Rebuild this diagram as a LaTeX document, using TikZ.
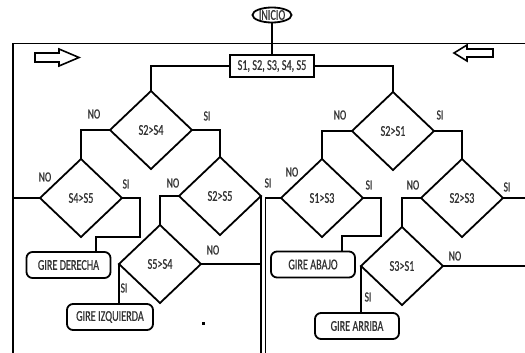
\documentclass[tikz,border=0pt]{standalone}
\usepackage{fontspec}
\setmainfont[FakeStretch=0.68,FakeBold=0.6]{Carlito}
\usetikzlibrary{shapes.geometric}
\begin{document}
\begin{tikzpicture}[x=1pt,y=-1pt,line width=1.8pt,
  every node/.style={font=\fontsize{15}{16}\selectfont, inner sep=0pt, outer sep=0pt, text=black!80},
  dec/.style={diamond, draw=black, minimum width=82pt, minimum height=78pt},
  act/.style={draw=black, rounded corners=6pt, minimum width=84pt, minimum height=26pt},
  startnode/.style={ellipse, draw=black, minimum width=39pt, minimum height=15pt},
  initbox/.style={draw=black, minimum width=84pt, minimum height=22pt},
  lbl/.style={font=\fontsize{14}{15}\selectfont},
  hollow/.style={draw=black, line width=1.6pt, fill=white, line join=miter},
  ]
\useasboundingbox (0,0) rectangle (525,353);

% frame
\coordinate (ftr) at (525,43.5);
\coordinate (ftl) at (13,43.5);
\coordinate (fbl) at (13,353);
\draw (ftr) -- (ftl) -- (fbl);

% hollow arrows
\draw[hollow] (35,53) -- (59,53) -- (59,49) -- (79,57.5) -- (59,66) -- (59,62) -- (35,62) -- cycle;
\draw[hollow] (454,53) -- (467,45) -- (467,49) -- (493,49) -- (493,57) -- (467,57) -- (467,61) -- cycle;

% nodes
\node[startnode] (inicio) at (272,15) {INICIO};
\node[initbox] (init) at (272,66) {S1, S2, S3, S4, S5};

\node[dec] (d1) at (151,130) {S2>S4};
\node[dec] (d2) at (81,198) {S4>S5};
\node[dec] (d3) at (220,196) {S2>S5};
\node[dec] (d4) at (160,264) {S5>S4};
\node[dec] (d5) at (393,131) {S2>S1};
\node[dec] (d6) at (322,198) {S1>S3};
\node[dec] (d7) at (462,198) {S2>S3};
\node[dec] (d8) at (402,266) {S3>S1};

\node[act] (gd) at (68.5,265) {GIRE DERECHA};
\node[act, minimum width=86pt] (gi) at (110,317) {GIRE IZQUIERDA};
\node[act] (gab) at (313,264.5) {GIRE ABAJO};
\node[act] (garr) at (357,326) {GIRE ARRIBA};

% free ends
\coordinate (e3) at (260.5,353);
\coordinate (e6) at (265.5,353);
\coordinate (e7) at (525,198);
\coordinate (e8) at (525,266);

% connectors
\draw (inicio.south) -- (init.north);
\draw (init.west) -| (d1.north);
\draw (init.east) -| (d5.north);
\draw (d1.west) -| (d2.north);
\draw (d1.east) -| (d3.north);
\draw (d2.west) -- (d2.west -| fbl);
\draw (d2.east) -- ++(18,0) -- ++(0,39) -| ([xshift=27.5pt]gd.north);
\draw (d3.west) -| (d4.north);
\draw (d3.east) -- (d3.east |- e3);
\draw (d4.east) -- (d4.east -| d3.east);
\draw (d4.west) -- (d4.west |- gi.north);
\draw (d5.west) -| (d6.north);
\draw (d5.east) -| (d7.north);
\draw (d6.west) -| (e6);
\draw (d6.east) -- ++(18,0) -- ++(0,38) -| ([xshift=29pt]gab.north);
\draw (d7.west) -| (d8.north);
\draw (d7.east) -- (e7);
\draw (d8.east) -- (e8);
\draw (d8.west) -- (d8.west |- garr.north);

% labels
\node[lbl] at (94,114) {NO};
\node[lbl] at (207,116) {SI};
\node[lbl] at (45,177) {NO};
\node[lbl] at (126,184) {SI};
\node[lbl] at (173,183) {NO};
\node[lbl] at (268,183) {SI};
\node[lbl] at (213,250) {NO};
\node[lbl] at (124,288) {SI};
\node[lbl] at (340,115) {NO};
\node[lbl] at (440,115) {SI};
\node[lbl] at (292,172) {NO};
\node[lbl] at (369,185) {SI};
\node[lbl] at (413,185) {NO};
\node[lbl] at (507,187) {SI};
\node[lbl] at (455,256) {NO};
\node[lbl] at (368,297) {SI};

% stray dot
\fill (202,322) rectangle (204.5,325);
\end{tikzpicture}
\end{document}
